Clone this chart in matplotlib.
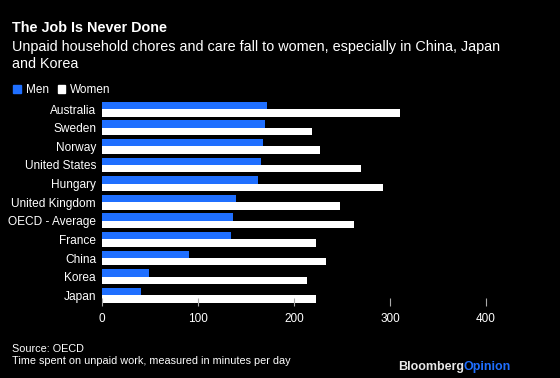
import matplotlib.pyplot as plt
import numpy as np

countries = ['Australia', 'Sweden', 'Norway', 'United States', 'Hungary',
             'United Kingdom', 'OECD - Average', 'France', 'China', 'Korea', 'Japan']
men = [172, 170, 168, 165, 162, 139, 136, 134, 90, 49, 40]
women = [310, 219, 227, 270, 293, 248, 263, 223, 233, 214, 223]
ticks = [0, 100, 200, 300, 400]

blue = '#1f6fff'
bg = 'black'
plt.rcParams['font.family'] = ['Liberation Sans', 'DejaVu Sans']

W, H = 560, 378
fig = plt.figure(figsize=(W / 100, H / 100), dpi=100, facecolor=bg)

# axes placed in pixel terms
left, right, top, bottom = 102.3, 505.0, 100.0, 306.4
ax = fig.add_axes([left / W, 1 - bottom / H, (right - left) / W, (bottom - top) / H])
ax.set_facecolor(bg)

y = np.arange(len(countries))
ax.barh(y - 0.2, men, height=0.4, color=blue)
ax.barh(y + 0.2, women, height=0.4, color='white')

ax.set_xlim(0, 420)
ax.set_ylim(10.6, -0.493)
ax.set_yticks(y)
ax.set_yticklabels(countries, color='white', fontsize=8.6)
ax.set_xticks(ticks)
ax.set_xticklabels([str(t) for t in ticks], color='white', fontsize=8.5)
ax.tick_params(axis='y', length=0, pad=4.5)
ax.tick_params(axis='x', direction='in', length=6, width=0.8, color='#aaaaaa', pad=5)
for s in ax.spines.values():
    s.set_visible(False)


def px(x, yy):
    return x / W, 1 - yy / H


fig.text(*px(12, 31.7), 'The Job Is Never Done', color='white', fontsize=10.4,
         fontweight='bold', va='baseline')
fig.text(*px(12, 50.7), 'Unpaid household chores and care fall to women, especially in China, Japan',
         color='white', fontsize=10.4, va='baseline')
fig.text(*px(12, 67.7), 'and Korea', color='white', fontsize=10.4, va='baseline')

# legend
fig.patches.append(plt.Rectangle(px(13, 93), 7.5 / W, 7.5 / H, transform=fig.transFigure,
                                 color=blue))
fig.text(*px(26, 93.3), 'Men', color='white', fontsize=8.5, va='baseline')
fig.patches.append(plt.Rectangle(px(57.5, 93), 7.5 / W, 7.5 / H, transform=fig.transFigure,
                                 color='white'))
fig.text(*px(70, 93.3), 'Women', color='white', fontsize=8.5, va='baseline')

fig.text(*px(12, 352), 'Source: OECD', color='white', fontsize=7.8, va='baseline')
fig.text(*px(12, 364.3), 'Time spent on unpaid work, measured in minutes per day',
         color='white', fontsize=7.8, va='baseline')

t = fig.text(*px(511, 370), 'Opinion', color=blue, fontsize=9, fontweight='bold',
             va='baseline', ha='right')
fig.canvas.draw()
bb = t.get_window_extent()
fig.text(bb.x0 / W, 1 - 370 / H, 'Bloomberg', color='#e8e8e8', fontsize=9,
         fontweight='bold', va='baseline', ha='right')

fig.savefig('out.png', dpi=100, facecolor=bg)
